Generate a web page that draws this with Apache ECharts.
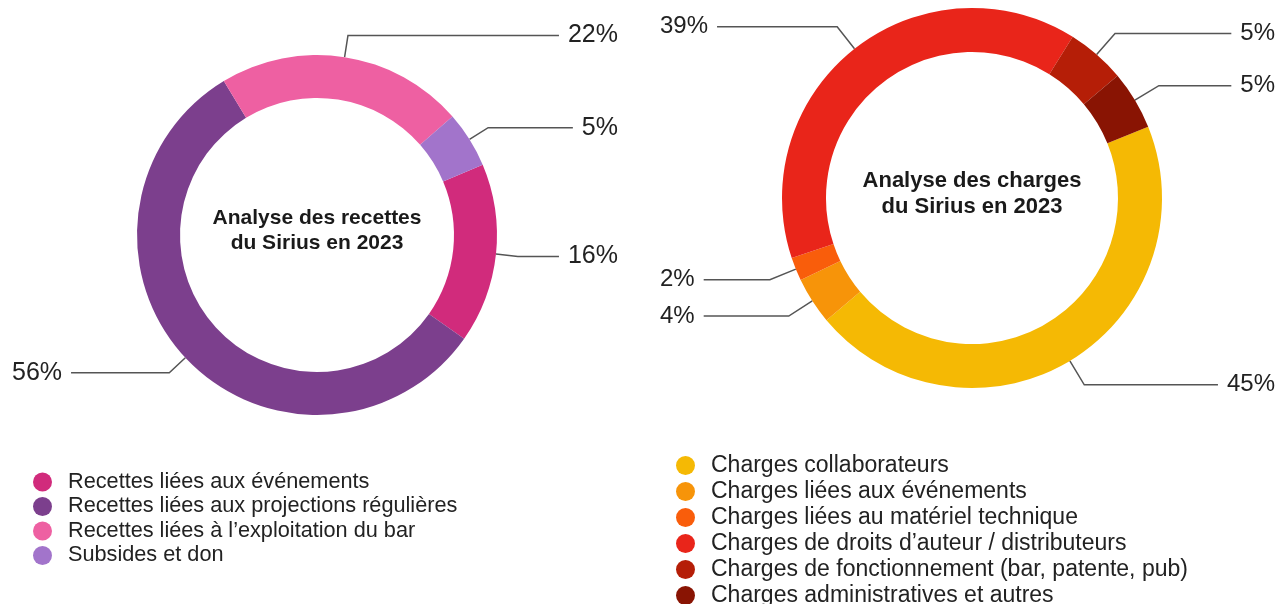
<!DOCTYPE html>
<html>
<head>
<meta charset="utf-8">
<script src="https://cdn.jsdelivr.net/npm/echarts@6/dist/echarts.min.js"></script>
<style>
    html, body { margin: 0; background: #fff; }
    #chart { width: 1284px; height: 604px; }
</style>
</head>
<body>
<div id="chart"></div>
<script>
// recettes (gauche)
const recettesNoms = [
    'Recettes liées aux événements',
    'Recettes liées aux projections régulières',
    'Recettes liées à l’exploitation du bar',
    'Subsides et don'
];
const recettesValeurs = [16, 56, 22, 5];
const recettesCouleurs = ['#d12b7c', '#7c3f8d', '#ee60a2', '#a274cb'];

// charges (droite)
const chargesNoms = [
    'Charges collaborateurs',
    'Charges liées aux événements',
    'Charges liées au matériel technique',
    'Charges de droits d’auteur / distributeurs',
    'Charges de fonctionnement (bar, patente, pub)',
    'Charges administratives et autres'
];
const chargesValeurs = [45, 4, 2, 39, 5, 5];
const chargesCouleurs = ['#f5b904', '#f79409', '#f95d0b', '#e9251a', '#b51e07', '#891403'];

const police = "'Liberation Sans', Arial, sans-serif";

let mychart = echarts.init(document.getElementById('chart'));

function toData(noms, valeurs) {
    return noms.map((n, i) => ({ name: n, value: valeurs[i] }));
}

function donut(noms, valeurs, couleurs, box, center, radius, longueur, debut, taille) {
    return {
        type: 'pie',
        left: box[0],
        width: box[1],
        top: 0,
        height: 604,
        center: center,
        radius: radius,
        startAngle: debut,
        clockwise: true,
        color: couleurs,
        data: toData(noms, valeurs),
        itemStyle: { borderWidth: 0 },
        emphasis: { disabled: true },
        label: {
            show: true,
            formatter: '{c}%',
            color: '#222',
            fontSize: taille,
            fontFamily: police,
            alignTo: 'edge',
            edgeDistance: 0,
            distanceToLabelLine: 9
        },
        labelLine: {
            show: true,
            length: longueur,
            length2: 10,
            lineStyle: { color: '#555', width: 1.5 }
        }
    };
}

function legende(noms, left, top, taille, gap) {
    return {
        orient: 'vertical',
        left: left,
        top: top,
        height: 220,
        data: noms,
        icon: 'circle',
        itemWidth: 19,
        itemHeight: 19,
        itemGap: gap,
        selectedMode: false,
        textStyle: {
            color: '#222',
            fontSize: taille,
            lineHeight: taille,
            fontFamily: police,
            padding: [0, 0, 0, 11]
        }
    };
}

let option = {
    animation: false,
    backgroundColor: '#fff',
    legend: [
        legende(recettesNoms, 28, 466, 21.7, 2.5),
        legende(chargesNoms, 671, 449, 23, 3)
    ],
    graphic: [
        {
            type: 'text', x: 317, y: 231,
            style: {
                text: 'Analyse des recettes\ndu Sirius en 2023',
                align: 'center', verticalAlign: 'middle',
                font: "bold 21px 'Liberation Sans', Arial, sans-serif",
                lineHeight: 25, fill: '#1a1a1a'
            }
        },
        {
            type: 'text', x: 972, y: 194,
            style: {
                text: 'Analyse des charges\ndu Sirius en 2023',
                align: 'center', verticalAlign: 'middle',
                font: "bold 22px 'Liberation Sans', Arial, sans-serif",
                lineHeight: 26, fill: '#1a1a1a'
            }
        }
    ],
    series: [
        donut(recettesNoms, recettesValeurs, recettesCouleurs, [12, 606], [305, 235], [137, 180], 22, 23, 25),
        donut(chargesNoms, chargesValeurs, chargesCouleurs, [660, 615], [312, 198], [146, 190], 28, 22, 24)
    ]
};
mychart.setOption(option);
</script>
</body>
</html>
